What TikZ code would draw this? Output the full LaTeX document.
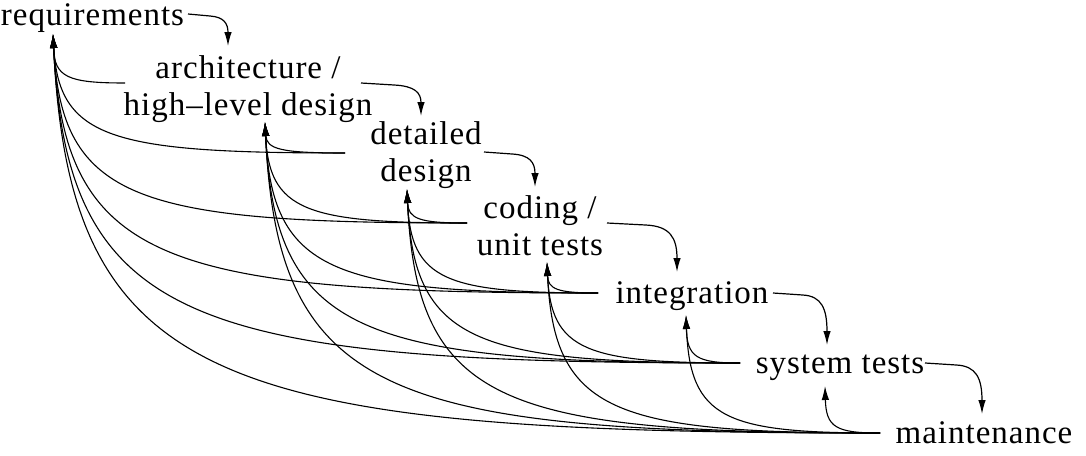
\documentclass[tikz,border=0pt]{standalone}
\usepackage{fontspec}
\setmainfont{Liberation Serif}[LetterSpace=3]
\usetikzlibrary{arrows.meta,calc}
\begin{document}
\begin{tikzpicture}[x=1pt,y=-1pt,
  lbl/.style={font=\fontsize{33}{37}\selectfont, inner sep=0pt, anchor=base, align=center},
  fwd/.style={line width=1.2pt, -{Latex[length=14pt,width=7.5pt]}},
  fb/.style={line width=1.1pt, {Latex[length=14pt,width=7.5pt]}-}]
\useasboundingbox (0,0) rectangle (1086,455);
% stages (anchor base = baseline of the last line)
\node[lbl] (req)  at (92.5,25) {requirements};
\node[lbl] (arch) at (248,115) {architecture /\\high--level design};
\node[lbl] (det)  at (426,181) {detailed\\design};
\node[lbl] (cod)  at (540,255) {coding /\\unit tests};
\node[lbl] (int)  at (692,303) {integration};
\node[lbl] (sys)  at (840,373) {system tests};
\node[lbl] (mai)  at (984,443) {maintenance};
% feedback arrow tips (below each stage)
\coordinate (t1) at (53,34);
\coordinate (t2) at (265,122);
\coordinate (t3) at (407,189);
\coordinate (t4) at (547,262);
\coordinate (t5) at (686,315);
\coordinate (t6) at (825,386);
% right ends of the feedback lines (left of each stage)
\coordinate (l2) at (125,83);
\coordinate (l3) at (345,153);
\coordinate (l4) at (467,223);
\coordinate (l5) at (598,293);
\coordinate (l6) at (740,363);
\coordinate (l7) at (880,433);
% forward arrows
\coordinate (s1) at (188,14);
\coordinate (s2) at (361,83);
\coordinate (s3) at (484,152);
\coordinate (s4) at (607,223);
\coordinate (s5) at (773,293);
\coordinate (s6) at (925,363);
\coordinate (a2) at (228,46);
\coordinate (a3) at (421,116);
\coordinate (a4) at (535,187);
\coordinate (a5) at (677,272);
\coordinate (a6) at (827,345);
\coordinate (a7) at (982,414);
\foreach \i [evaluate=\i as \nxt using int(\i+1)] in {1,...,6}{
  \draw[fwd] let \p1=(s\i), \p2=(a\nxt) in
    (\p1) -- ({\x1+0.55*(\x2-\x1)},{\y1-2pt})
    .. controls ({\x1+0.9*(\x2-\x1)},{\y1-3pt}) and ({\x2},{\y1+0.3*(\y2-\y1)}) .. (\p2);
}
% feedback curves
\foreach \k in {1,...,6}{
  \pgfmathtruncatemacro\st{\k+1}
  \foreach \j in {\st,...,7}{
    \draw[fb] let \p1=(t\k), \p2=(l\j) in
      (\p1) .. controls ({\x1+0.02*(\x2-\x1)},{\y1+0.88*(\y2-\y1)})
               and ({\x1+0.2*(\x2-\x1)},{\y2}) .. (\p2);
  }
}
\end{tikzpicture}
\end{document}
